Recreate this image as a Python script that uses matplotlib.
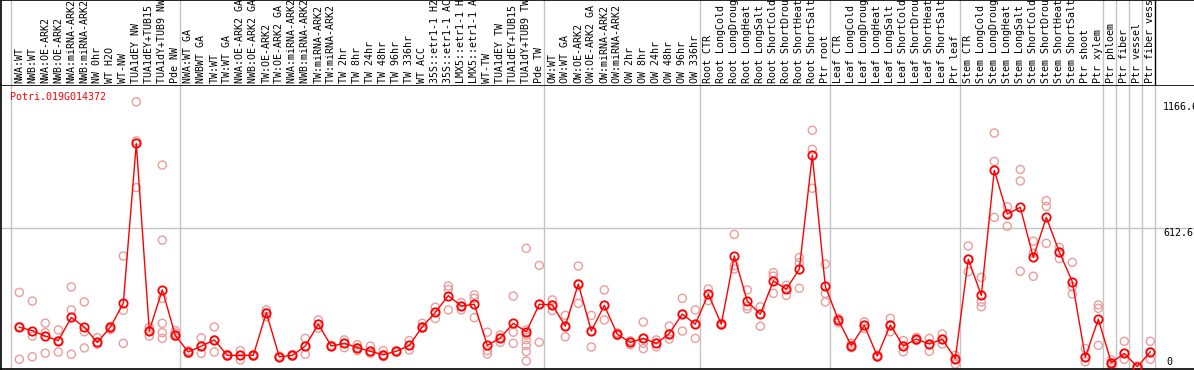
import numpy as np
import matplotlib
matplotlib.use("Agg")
import matplotlib.pyplot as plt

gene = "Potri.019G014372"

labels = [
    "NWA:WT", "NWB:WT", "NWA:OE-ARK2", "NWB:OE-ARK2", "NWA:miRNA-ARK2", "NWB:miRNA-ARK2",
    "NW 0hr", "WT H2O", "WT-NW", "TUA1dEY NW", "TUA1dEY+TUB15 NW", "TUA1dY+TUB9 NW", "Pde NW",
    "NWA:WT GA", "NWBWT GA", "TW:WT", "TW:WT GA", "NWA:OE-ARK2 GA", "NWB:OE-ARK2 GA",
    "TW:OE-ARK2", "TW:OE-ARK2 GA", "NWA:miRNA-ARK2 GA", "NWB:miRNA-ARK2 GA", "TW:miRNA-ARK2",
    "TW:miRNA-ARK2 GA", "TW 2hr", "TW 8hr", "TW 24hr", "TW 48hr", "TW 96hr", "TW 336hr",
    "WT ACC", "35S::etr1-1 H2O", "35S::etr1-1 ACC", "LMX5::etr1-1 H2O", "LMX5::etr1-1 ACC",
    "WT-TW", "TUA1dEY TW", "TUA1dEY+TUB15 TW", "TUA1dY+TUB9 TW", "Pde TW",
    "OW:WT", "OW:WT GA", "OW:OE-ARK2", "OW:OE-ARK2 GA", "OW:miRNA-ARK2", "OW:miRNA-ARK2 GA",
    "OW 2hr", "OW 8hr", "OW 24hr", "OW 48hr", "OW 96hr", "OW 336hr",
    "Root CTR", "Root LongCold", "Root LongDrought", "Root LongHeat", "Root LongSalt",
    "Root ShortCold", "Root ShortDrought", "Root ShortHeat", "Root ShortSalt", "Ptr root",
    "Leaf CTR", "Leaf LongCold", "Leaf LongDrought", "Leaf LongHeat", "Leaf LongSalt",
    "Leaf ShortCold", "Leaf ShortDrought", "Leaf ShortHeat", "Leaf ShortSalt", "Ptr leaf",
    "Stem CTR", "Stem LongCold", "Stem LongDrought", "Stem LongHeat", "Stem LongSalt",
    "Stem ShortCold", "Stem ShortDrought", "Stem ShortHeat", "Stem ShortSalt", "Ptr shoot",
    "Ptr xylem", "Ptr phloem", "Ptr fiber", "Ptr vessel", "Ptr fiber vessel",
]
group_sizes = [13, 28, 12, 10, 10, 11, 1, 1, 1, 1]

means = [
    175, 160, 136, 116, 218, 175, 108, 175, 280, 983, 160, 339, 139,
    66, 92, 119, 51, 51, 51, 239, 45, 51, 92, 188, 92, 104, 85, 69, 54, 69, 95,
    177, 240, 314, 268, 276, 95, 128, 192, 155, 276,
    273, 180, 365, 158, 271, 144, 108, 126, 104, 147, 233, 188,
    321, 188, 488, 289, 232, 378, 343, 430, 931, 355,
    207, 94, 183, 48, 185, 92, 123, 101, 122, 37,
    474, 315, 865, 673, 702, 482, 658, 506, 375, 43, 210,
    19, 60, 1, 67,
]

reps = [
    [328, 178, 34], [290, 136, 45], [193, 151, 61], [163, 116, 66], [352, 251, 56],
    [286, 155, 84], [129, 108, 100], [178, 170, 165], [488, 249, 104], [1166, 994, 789],
    [175, 160, 136], [888, 558, 302, 192, 151, 126], [160, 149, 134],
    [72, 66, 60], [128, 92, 60], [176, 119, 66], [55, 51, 47], [72, 51, 31], [55, 51, 47],
    [251, 239, 221], [48, 45, 42], [55, 51, 47], [126, 92, 56], [207, 188, 171],
    [95, 92, 89], [119, 104, 85], [98, 85, 72], [92, 69, 60], [72, 54, 45], [72, 69, 65],
    [116, 95, 75], [192, 177, 170], [263, 240, 213], [356, 341, 251], [283, 268, 251],
    [317, 302, 217], [153, 72, 57], [141, 128, 108], [312, 153, 104],
    [522, 163, 140, 120, 95, 68, 26], [447, 276, 109],
    [295, 273, 248], [227, 180, 133], [444, 365, 280], [227, 158, 88], [339, 271, 207],
    [150, 144, 138], [115, 108, 98], [198, 126, 104, 81], [119, 104, 89], [180, 147, 123],
    [302, 233, 158], [251, 188, 126],
    [343, 321, 292], [192, 188, 184], [583, 446, 431], [339, 268, 256], [265, 232, 179],
    [415, 400, 324], [359, 343, 315], [481, 459, 346], [1041, 957, 786], [453, 324, 286],
    [214, 207, 195], [104, 94, 85], [199, 183, 170], [52, 48, 44], [214, 185, 155],
    [116, 92, 67], [130, 123, 116], [126, 101, 69], [145, 122, 101], [51, 37, 13],
    [532, 474, 419], [394, 286, 265], [1029, 904, 658], [705, 673, 619], [869, 818, 421],
    [553, 500, 399], [731, 706, 544], [526, 506, 477], [460, 353, 321], [81, 43, 23],
    [273, 258, 95],
    [31, 19, 8], [113, 60, 34], [5, 1, 0], [113, 67, 34],
]

ytick_vals = [0, 612.6]
ymax_label = "1166.6"
ymax_val = 1166

W, H = 1194, 370
font = ["DejaVu Sans Mono"]
fs = 7.2
grid_c = "#c4c4c4"

fig = plt.figure(figsize=(W / 100, H / 100), dpi=100)
ax = fig.add_axes([1 / W, 1 / H, (W - 1) / W, 284 / H])
lab = fig.add_axes([1 / W, 285 / H, (W - 1) / W, 85 / H])

xlim = ((1 - 19.3) / 13, (W - 19.3) / 13)
ax.set_xlim(*xlim)
ax.set_ylim((367 - 369) / 0.2274, (367 - 85) / 0.2274)
lab.set_xlim(*xlim)
lab.set_ylim(0, 1)

x = np.arange(len(means))

# group separators
bounds = [-0.65] + list(np.cumsum(group_sizes) - 1 + 0.38)
for b in bounds:
    ax.axvline(b, color=grid_c, lw=1, zorder=0)
for b in bounds[:-1]:
    lab.axvline(b, color=grid_c, lw=1, zorder=0)
lab.axvline(bounds[-1], color="black", lw=1)
ax.axhline(612.6, color=grid_c, lw=1, zorder=0)

for i, r in enumerate(reps):
    ax.scatter([i] * len(r), r, s=34, facecolors="none", edgecolors="#ec9c9c",
               linewidths=1, zorder=2, clip_on=False)
ax.plot(x, means, color="red", lw=1, marker="o", ms=6, mfc="none", mec="red",
        mew=1.3, zorder=3, clip_on=False)

ax.text((10 - 19.3) / 13, (367 - 96.7) / 0.2274, gene, color="red", family=font,
        fontsize=fs, ha="left", va="center")

tx = (1163 - 19.3) / 13
ax.text(tx, ymax_val, ymax_label, family=font, fontsize=fs, ha="left", va="top", clip_on=False)
ax.text(tx, ytick_vals[1], "%g" % ytick_vals[1], family=font, fontsize=fs, ha="left", va="top")
ax.text((1166 - 19.3) / 13, ytick_vals[0], "%g" % ytick_vals[0], family=font, fontsize=fs,
        ha="left", va="bottom")

for i, t in enumerate(labels):
    lab.text(i, 2 / 85, t, rotation=90, family=font, fontsize=fs, ha="center",
             va="bottom", clip_on=True)

ax.set_xticks([])
ax.set_yticks([])
lab.set_xticks([])
lab.set_yticks([])
for a in (ax, lab):
    a.spines["right"].set_visible(False)
    for s in ("left", "top", "bottom"):
        a.spines[s].set_color("black")
        a.spines[s].set_linewidth(1.2)
lab.spines["bottom"].set_visible(False)

fig.savefig("out.png", dpi=100)
